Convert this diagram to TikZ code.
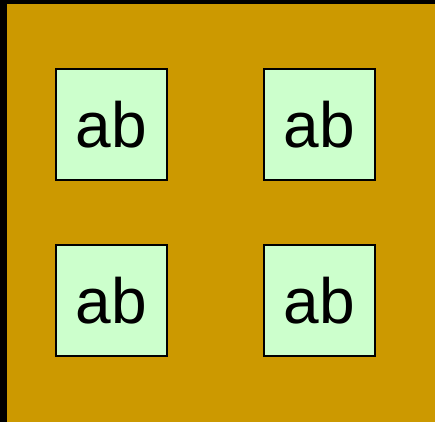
\documentclass[tikz,border=0pt]{standalone}
\usepackage{fontspec}
\setmainfont{Liberation Sans}
\usepackage{tikz}
\usetikzlibrary{positioning}
\definecolor{Ochre}{HTML}{CC9900}
\definecolor{PaleMint}{HTML}{CCFFCC}

\begin{document}
\begin{tikzpicture}[
  x=1pt, y=1pt,
  node distance=63pt and 95pt,
  cell/.style={draw=black, line width=2pt, fill=PaleMint, minimum size=111pt,
               inner sep=0pt, font=\fontsize{64}{64}\selectfont}
]
% frame and background
\fill[black] (0,0) rectangle (435,422);
\fill[Ochre] (7,0) rectangle (435,418);
\useasboundingbox (0,0) rectangle (435,422);
\node[cell] (topleft) at (111.5,297) {ab};
\node[cell, right=of topleft] (topright) {ab};
\node[cell, below=of topleft] (bottomleft) {ab};
\node[cell, below=of topright] (bottomright) {ab};
\end{tikzpicture}
\end{document}
